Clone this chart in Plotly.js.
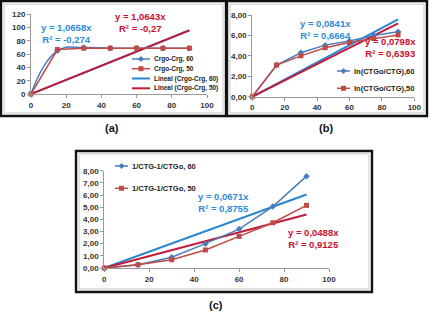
<!DOCTYPE html>
<html><head><meta charset="utf-8">
<script src="https://cdn.plot.ly/plotly-3.0.1.min.js"></script>
<style>html,body{margin:0;padding:0;background:#fff}#chart{width:429px;height:314px}</style>
</head><body><div id="chart"></div>
<script>
// ---- data ----
const times = [0, 15, 30, 45, 60, 75, 90];
const aSeries60 = [0, 65, 70, 69, 69, 69, 69];
const aSeries50 = [0, 67, 69, 69, 69, 69, 69];
const aSlopes = [1.0658, 1.0643];
const aNames = ['Crgo-Crg, 60', 'Crgo-Crg, 50', 'Lineal (Crgo-Crg, 60)', 'Lineal (Crgo-Crg, 50)'];
const aEq = ['y = 1,0658x<br>R² = -0,274', 'y = 1,0643x<br>R² = -0,27'];
const bSeries60 = [0, 3.1, 4.3, 5.05, 5.45, 6.0, 6.35];
const bSeries50 = [0, 3.1, 4.0, 4.8, 5.3, 5.7, 6.05];
const bSlopes = [0.0841, 0.0798];
const bNames = ['ln(CTGo/CTG),60', 'ln(CTGo/CTG),50'];
const bEq = ['y = 0,0841x<br>R² = 0,6664', 'y = 0,0798x<br>R² = 0,6393'];
const cSeries60 = [0, 0.27, 0.88, 2.0, 3.2, 5.05, 7.55];
const cSeries50 = [0, 0.27, 0.68, 1.48, 2.6, 3.72, 5.15];
const cSlopes = [0.0671, 0.0488];
const cNames = ['1/CTG-1/CTGo, 60', '1/CTG-1/CTGo, 50'];
const cEq = ['y = 0,0671x<br>R² = 0,8755', 'y = 0,0488x<br>R² = 0,9125'];
const panelLabels = ['(a)', '(b)', '(c)'];

// ---- style ----
const W = 429, H = 314;
const px = x => x / W, py = y => 1 - y / H;
const BLUE = '#4A7EBB', RED = '#BE4B48', TBLUE = '#2A86D2', TRED = '#C41A3A';
const ABLUE = '#2E8BD6', ARED = '#C8102E';
const FONT = 'Liberation Sans, Arial, sans-serif';

const trendX = [times[0], times[times.length - 1]];
const trendY = s => trendX.map(x => x * s);

function dataTrace(y, name, color, sym, xa, ya, shape) {
  return {x: times, y: y, name: name, type: 'scatter', mode: 'lines+markers',
    line: {color: color, width: 1.5, shape: shape || 'linear', smoothing: 1.3},
    marker: {color: color, symbol: sym, size: 5},
    xaxis: xa, yaxis: ya, showlegend: false, cliponaxis: false};
}
function trendTrace(s, name, color, xa, ya) {
  return {x: trendX, y: trendY(s), name: name, type: 'scatter', mode: 'lines',
    line: {color: color, width: 2}, xaxis: xa, yaxis: ya, showlegend: false, cliponaxis: false};
}

const traces = [
  trendTrace(aSlopes[0], aNames[2], TBLUE, 'x', 'y'),
  trendTrace(aSlopes[1], aNames[3], TRED, 'x', 'y'),
  dataTrace(aSeries60, aNames[0], BLUE, 'diamond', 'x', 'y', 'spline'),
  dataTrace(aSeries50, aNames[1], RED, 'square', 'x', 'y'),
  trendTrace(bSlopes[0], 'Lineal ' + bNames[0], TBLUE, 'x2', 'y2'),
  trendTrace(bSlopes[1], 'Lineal ' + bNames[1], TRED, 'x2', 'y2'),
  dataTrace(bSeries60, bNames[0], BLUE, 'diamond', 'x2', 'y2'),
  dataTrace(bSeries50, bNames[1], RED, 'square', 'x2', 'y2'),
  trendTrace(cSlopes[0], 'Lineal ' + cNames[0], TBLUE, 'x3', 'y3'),
  trendTrace(cSlopes[1], 'Lineal ' + cNames[1], TRED, 'x3', 'y3'),
  dataTrace(cSeries60, cNames[0], BLUE, 'diamond', 'x3', 'y3'),
  dataTrace(cSeries50, cNames[1], RED, 'square', 'x3', 'y3'),
];

const tickFont = {family: FONT, size: 8, color: '#333', weight: 'bold'};
function xAxis(dom, anchor) {
  return {domain: dom, anchor: anchor, range: [0, 100], dtick: 20, tick0: 0,
    showgrid: false, zeroline: false, showline: true, linecolor: '#999', linewidth: 1,
    ticks: 'outside', ticklen: 3, tickcolor: '#999', tickfont: tickFont, fixedrange: true};
}
function yAxis(dom, anchor, range, dtick, fmt) {
  return {domain: dom, anchor: anchor, range: range, dtick: dtick, tick0: 0,
    tickformat: fmt, showgrid: false, zeroline: false, showline: true, linecolor: '#999',
    linewidth: 1, ticks: 'outside', ticklen: 3, tickcolor: '#999', tickfont: tickFont,
    fixedrange: true};
}

const shapes = [];
const annotations = [];
function frame(x0, y0, x1, y1) {
  shapes.push({type: 'rect', xref: 'paper', yref: 'paper', x0: px(x0), x1: px(x1), y0: py(y0), y1: py(y1),
    line: {color: '#111', width: 2.4}, layer: 'below'});
  shapes.push({type: 'rect', xref: 'paper', yref: 'paper', x0: px(x0 + 3), x1: px(x1 - 3), y0: py(y0 + 3), y1: py(y1 - 3),
    line: {color: '#bbb', width: 0.8}, layer: 'below'});
}
function ann(text, x, y, color, size, anchor) {
  annotations.push({text: text, x: px(x), y: py(y), xref: 'paper', yref: 'paper', showarrow: false,
    xanchor: anchor || 'center', yanchor: 'middle', align: 'center',
    font: {family: FONT, size: size || 9.5, color: color, weight: 'bold'}});
}
// manual legend entry: line + marker + label
function legendEntry(name, color, sym, x0, x1, y, lw, size) {
  shapes.push({type: 'line', xref: 'paper', yref: 'paper', x0: px(x0), x1: px(x1), y0: py(y), y1: py(y),
    line: {color: color, width: lw}});
  const cx = (x0 + x1) / 2;
  if (sym === 'square') {
    shapes.push({type: 'rect', xref: 'paper', yref: 'paper', x0: px(cx - 2.5), x1: px(cx + 2.5),
      y0: py(y + 2.5), y1: py(y - 2.5), fillcolor: color, line: {width: 0}});
  } else if (sym === 'diamond') {
    shapes.push({type: 'path', xref: 'paper', yref: 'paper',
      path: `M${px(cx - 3)},${py(y)} L${px(cx)},${py(y - 3)} L${px(cx + 3)},${py(y)} L${px(cx)},${py(y + 3)} Z`,
      fillcolor: color, line: {width: 0}});
  }
  ann(name, x1 + 2, y, '#222', size || 7.5, 'left');
}

frame(1, 1, 226, 116); frame(227, 1, 427, 116); frame(76, 151, 372, 292);

ann(aEq[0], 66, 34, ABLUE); ann(aEq[1], 140, 23, ARED);
ann(bEq[0], 325, 30, ABLUE); ann(bEq[1], 390, 48, ARED);
ann(cEq[0], 223, 202, ABLUE); ann(cEq[1], 313, 238, ARED);
ann(panelLabels[0], 112, 128, '#111', 11); ann(panelLabels[1], 326, 128, '#111', 11);
ann(panelLabels[2], 216, 305, '#111', 11);

legendEntry(aNames[0], BLUE, 'diamond', 132, 150, 59, 1.5, 6.5);
legendEntry(aNames[1], RED, 'square', 132, 150, 68.7, 1.5, 6.5);
legendEntry(aNames[2], TBLUE, null, 132, 150, 78.5, 2, 6.5);
legendEntry(aNames[3], TRED, null, 132, 150, 88.3, 2, 6.5);
legendEntry(bNames[0], BLUE, 'diamond', 337, 350, 71, 1.5, 7.5);
legendEntry(bNames[1], RED, 'square', 337, 350, 88.3, 1.5, 7.5);
legendEntry(cNames[0], BLUE, 'diamond', 115, 128, 166, 1.5, 7.5);
legendEntry(cNames[1], RED, 'square', 115, 128, 188.3, 1.5, 7.5);

const layout = {
  width: W, height: H, margin: {l: 0, r: 0, t: 0, b: 0},
  paper_bgcolor: '#fff', plot_bgcolor: 'rgba(0,0,0,0)',
  separators: ', ', showlegend: false,
  xaxis: xAxis([px(31), px(207)], 'y'),
  yaxis: yAxis([py(94), py(14.3)], 'x', [0, 120], 20, ''),
  xaxis2: xAxis([px(252.3), px(414.3)], 'y2'),
  yaxis2: yAxis([py(96.7), py(15)], 'x2', [0, 8], 2, '.2f'),
  xaxis3: xAxis([px(104.3), px(329)], 'y3'),
  yaxis3: yAxis([py(268), py(170.7)], 'x3', [0, 8], 1, '.2f'),
  shapes: shapes,
  annotations: annotations
};

Plotly.newPlot('chart', traces, layout, {staticPlot: true, displayModeBar: false});
</script></body></html>
